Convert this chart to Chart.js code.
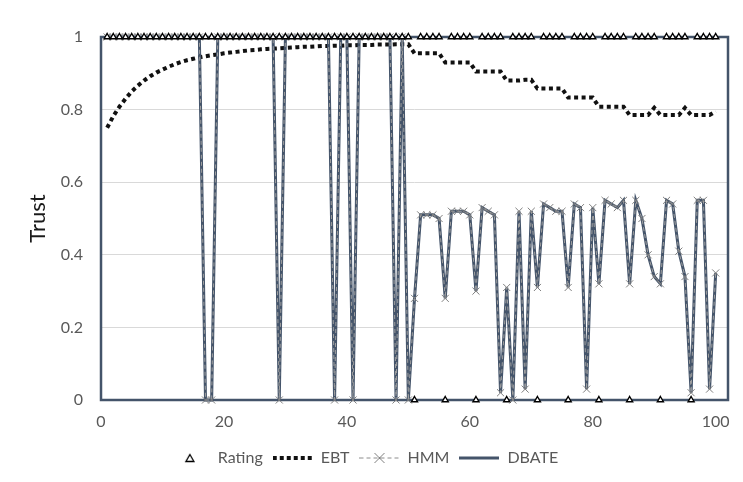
<!DOCTYPE html>
<html>
<head>
<meta charset="utf-8">
<script src="https://cdn.jsdelivr.net/npm/chart.js@4.4.1/dist/chart.umd.min.js"></script>
<style>
html, body { margin: 0; padding: 0; background: #fff; }
#wrap { width: 743px; height: 482px; position: relative; }
</style>
</head>
<body>
<div id="wrap"><canvas id="myChart"></canvas></div>
<script>
// time steps 1..100
var steps = Array.from({length: 100}, function(_, i) { return i + 1; });

var ratingVals = [
    1, 1, 1, 1, 1, 1, 1, 1, 1, 1,
    1, 1, 1, 1, 1, 1, 1, 1, 1, 1,
    1, 1, 1, 1, 1, 1, 1, 1, 1, 1,
    1, 1, 1, 1, 1, 1, 1, 1, 1, 1,
    1, 1, 1, 1, 1, 1, 1, 1, 1, 1,
    0, 1, 1, 1, 1, 0, 1, 1, 1, 1,
    0, 1, 1, 1, 1, 0, 1, 1, 1, 1,
    0, 1, 1, 1, 1, 0, 1, 1, 1, 1,
    0, 1, 1, 1, 1, 0, 1, 1, 1, 1,
    0, 1, 1, 1, 1, 0, 1, 1, 1, 1
];

var ebtVals = [
    0.750, 0.782, 0.808, 0.830, 0.850, 0.866, 0.880, 0.892, 0.902, 0.910,
    0.918, 0.925, 0.931, 0.936, 0.940, 0.944, 0.947, 0.950, 0.952, 0.955,
    0.957, 0.959, 0.961, 0.963, 0.964, 0.966, 0.967, 0.968, 0.969, 0.970,
    0.971, 0.972, 0.973, 0.973, 0.974, 0.975, 0.975, 0.976, 0.976, 0.977,
    0.977, 0.978, 0.978, 0.978, 0.979, 0.979, 0.979, 0.980, 0.980, 0.980,
    0.955, 0.955, 0.955, 0.955, 0.955, 0.930, 0.930, 0.930, 0.930, 0.930,
    0.905, 0.905, 0.905, 0.905, 0.905, 0.880, 0.880, 0.880, 0.882, 0.882,
    0.858, 0.858, 0.858, 0.858, 0.858, 0.833, 0.833, 0.833, 0.833, 0.833,
    0.808, 0.808, 0.808, 0.808, 0.808, 0.785, 0.785, 0.785, 0.785, 0.805,
    0.785, 0.785, 0.785, 0.785, 0.805, 0.785, 0.785, 0.785, 0.785, 0.795
];

var hmmVals = [
    1, 1, 1, 1, 1, 1, 1, 1, 1, 1,
    1, 1, 1, 1, 1, 1, 0, 0, 1, 1,
    1, 1, 1, 1, 1, 1, 1, 1, 0, 1,
    1, 1, 1, 1, 1, 1, 1, 0, 1, 1,
    0, 1, 1, 1, 1, 1, 1, 0, 1, 0,
    0.28, 0.51, 0.51, 0.51, 0.50, 0.28, 0.52, 0.52, 0.52, 0.51,
    0.30, 0.53, 0.52, 0.51, 0.02, 0.31, 0.00, 0.52, 0.03, 0.52,
    0.31, 0.54, 0.53, 0.52, 0.52, 0.31, 0.54, 0.53, 0.03, 0.53,
    0.32, 0.55, 0.54, 0.53, 0.55, 0.32, 0.55, 0.50, 0.40, 0.34,
    0.32, 0.55, 0.54, 0.41, 0.34, 0.02, 0.55, 0.55, 0.03, 0.35
];

var dbateVals = [
    1, 1, 1, 1, 1, 1, 1, 1, 1, 1,
    1, 1, 1, 1, 1, 1, 0, 0, 1, 1,
    1, 1, 1, 1, 1, 1, 1, 1, 0, 1,
    1, 1, 1, 1, 1, 1, 1, 0, 1, 1,
    0, 1, 1, 1, 1, 1, 1, 0, 1, 0,
    0.28, 0.51, 0.51, 0.51, 0.50, 0.28, 0.52, 0.52, 0.52, 0.51,
    0.30, 0.53, 0.52, 0.51, 0.02, 0.31, 0.00, 0.52, 0.03, 0.52,
    0.31, 0.54, 0.53, 0.52, 0.52, 0.31, 0.54, 0.53, 0.03, 0.53,
    0.32, 0.55, 0.54, 0.53, 0.55, 0.32, 0.55, 0.50, 0.40, 0.34,
    0.32, 0.55, 0.54, 0.41, 0.34, 0.02, 0.55, 0.55, 0.03, 0.35
];

var xTicks = [0, 20, 40, 60, 80, 100];
var seriesNames = ['Rating', 'EBT', 'HMM', 'DBATE'];

var slate = '#44546A';
var textGray = '#595959';

function pts(vals) {
    return vals.map(function(v, i) { return {x: steps[i], y: v}; });
}

// small pictures for the legend keys
function makeKey(draw) {
    var c = document.createElement('canvas');
    c.width = 40;
    c.height = 14;
    draw(c.getContext('2d'));
    return c;
}
var keyRating = makeKey(function(g) {
    g.beginPath();
    g.moveTo(20, 3.5); g.lineTo(24, 10.5); g.lineTo(16, 10.5); g.closePath();
    g.fillStyle = '#fff'; g.fill();
    g.strokeStyle = '#000'; g.lineWidth = 1.3; g.stroke();
});
var keyEbt = makeKey(function(g) {
    g.setLineDash([4, 3]);
    g.strokeStyle = '#111'; g.lineWidth = 4;
    g.beginPath(); g.moveTo(0, 7); g.lineTo(40, 7); g.stroke();
});
var keyHmm = makeKey(function(g) {
    g.setLineDash([4, 3]);
    g.strokeStyle = '#8c8c8c'; g.lineWidth = 1;
    g.beginPath(); g.moveTo(0, 7); g.lineTo(40, 7); g.stroke();
    g.setLineDash([]);
    g.strokeStyle = '#7f7f7f';
    g.beginPath(); g.moveTo(15, 2); g.lineTo(25, 12); g.moveTo(25, 2); g.lineTo(15, 12); g.stroke();
});
var keyDbate = makeKey(function(g) {
    g.strokeStyle = slate; g.lineWidth = 3;
    g.beginPath(); g.moveTo(0, 7); g.lineTo(40, 7); g.stroke();
});
var keys = [keyRating, keyEbt, keyHmm, keyDbate];

var plotBorder = {
    id: 'plotBorder',
    beforeDatasetsDraw: function(chart) {
        var a = chart.chartArea, ctx = chart.ctx;
        ctx.save();
        ctx.strokeStyle = slate;
        ctx.lineWidth = 2.5;
        ctx.strokeRect(a.left, a.top, a.right - a.left, a.bottom - a.top);
        ctx.restore();
    }
};

var ctx = document.getElementById('myChart').getContext('2d');
var chart = new Chart(ctx, {
    type: 'line',
    data: {
        datasets: [{
            label: seriesNames[0],
            data: pts(ratingVals),
            showLine: false,
            pointStyle: 'triangle',
            pointRadius: 3.5,
            pointBorderColor: '#000',
            pointBackgroundColor: '#fff',
            pointBorderWidth: 1.4,
            borderColor: '#000',
            order: 0,
            clip: false
        },
        {
            label: seriesNames[1],
            data: pts(ebtVals),
            borderColor: '#111',
            borderWidth: 4,
            borderDash: [4, 3.5],
            borderCapStyle: 'butt',
            pointRadius: 0,
            order: 3,
            clip: false
        },
        {
            label: seriesNames[2],
            data: pts(hmmVals),
            borderColor: '#a0a0a0',
            borderWidth: 1,
            borderDash: [4, 3],
            pointStyle: 'crossRot',
            pointRadius: 5,
            pointBorderColor: '#7f7f7f',
            pointBorderWidth: 1,
            order: 1,
            clip: false
        },
        {
            label: seriesNames[3],
            data: pts(dbateVals),
            borderColor: slate,
            borderWidth: 3,
            pointRadius: 0,
            order: 2,
            clip: false
        }]
    },
    options: {
        responsive: true,
        maintainAspectRatio: false,
        animation: false,
        devicePixelRatio: 1,
        layout: { padding: { left: 0, right: 15, top: 37, bottom: 6 } },
        scales: {
            x: {
                type: 'linear',
                min: 0,
                max: 102,
                afterBuildTicks: function(s) { s.ticks = xTicks.map(function(v) { return {value: v}; }); },
                afterFit: function(s) { s.height = 40; },
                grid: { display: false, drawTicks: false },
                border: { display: false },
                ticks: { color: textGray, padding: 12, font: { family: 'Lato', size: 16 } }
            },
            y: {
                min: 0,
                max: 1,
                afterFit: function(s) { s.width = 101; },
                grid: { color: '#d9d9d9', drawTicks: false },
                border: { display: false },
                ticks: {
                    stepSize: 0.2,
                    color: textGray,
                    padding: 18,
                    font: { family: 'Lato', size: 16 },
                    callback: function(v) { return String(Math.round(v * 10) / 10); }
                },
                title: {
                    display: true,
                    text: 'Trust',
                    color: '#1a1a1a',
                    padding: { top: 25, bottom: 0 },
                    font: { family: 'Lato', size: 22 }
                }
            }
        },
        plugins: {
            tooltip: { enabled: false },
            legend: {
                position: 'bottom',
                labels: {
                    usePointStyle: true,
                    pointStyleWidth: 40,
                    boxHeight: 14,
                    padding: 10,
                    color: textGray,
                    font: { family: 'Lato', size: 16 },
                    generateLabels: function(chart) {
                        return seriesNames.map(function(name, i) {
                            return {
                                text: name,
                                pointStyle: keys[i],
                                fontColor: textGray,
                                datasetIndex: i,
                                hidden: false,
                                lineWidth: 0,
                                strokeStyle: 'rgba(0,0,0,0)',
                                fillStyle: 'rgba(0,0,0,0)'
                            };
                        });
                    }
                }
            }
        }
    },
    plugins: [plotBorder]
});
</script>
</body>
</html>
